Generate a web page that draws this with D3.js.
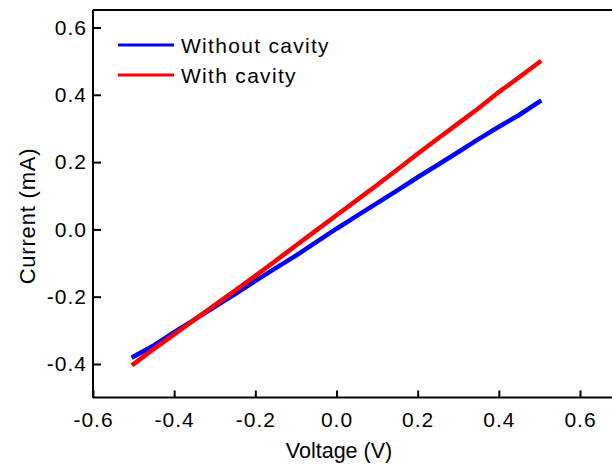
<!DOCTYPE html>
<html>
<head>
<meta charset="utf-8">
<script src="https://cdn.jsdelivr.net/npm/d3@7"></script>
<style>
body { margin: 0; background: #fff; }
text { font-family: "Liberation Sans", Arial, sans-serif; }
</style>
</head>
<body>
<script>

// voltage sweep (V)
var voltage = [-0.5, -0.45, -0.4, -0.35, -0.3, -0.25, -0.2, -0.15, -0.1, -0.05, 0,
               0.05, 0.1, 0.15, 0.2, 0.25, 0.3, 0.35, 0.4, 0.45, 0.5];
// current (mA)
var withoutCavity = [-0.378, -0.345, -0.305, -0.268, -0.230, -0.192, -0.153, -0.115, -0.078, -0.038, 0.002,
                     0.040, 0.078, 0.116, 0.155, 0.192, 0.230, 0.268, 0.305, 0.340, 0.380];
var withCavity = [-0.400, -0.355, -0.312, -0.268, -0.225, -0.182, -0.138, -0.093, -0.048, -0.003, 0.042,
                  0.087, 0.132, 0.178, 0.225, 0.270, 0.315, 0.360, 0.408, 0.452, 0.497];
var seriesNames = ["Without cavity", "With cavity"];
var seriesColors = ["#0000ff", "#ff0000"];
var xTicks = [-0.6, -0.4, -0.2, 0.0, 0.2, 0.4, 0.6];
var yTicks = [-0.4, -0.2, 0.0, 0.2, 0.4, 0.6];

var width = 612, height = 467;
var margin = {top: 10, right: 0, bottom: 69, left: 93};

var svg = d3.select("body").append("svg")
    .attr("width", width)
    .attr("height", height);

var x = d3.scaleLinear()
    .domain([-0.6, 0.6])
    .range([93, 580]);

var y = d3.scaleLinear()
    .domain([-0.4, 0.6])
    .range([364, 27.5]);

// plain hyphen instead of unicode minus
var fmt = v => d3.format(".1f")(v).replace("\u2212", "-");

// x axis (ticks pointing inward)
var gx = svg.append("g")
    .attr("transform", "translate(0," + (height - margin.bottom - 0.5) + ")")
    .call(d3.axisBottom(x).tickValues(xTicks).tickFormat(fmt).tickSize(-7).tickPadding(15).tickSizeOuter(0));
gx.select(".domain").attr("d", "M" + margin.left + ",0H" + width);

// y axis
var gy = svg.append("g")
    .attr("transform", "translate(" + margin.left + ",0)")
    .call(d3.axisLeft(y).tickValues(yTicks).tickFormat(fmt).tickSize(-8).tickPadding(6).tickSizeOuter(0));
gy.select(".domain").attr("d", "M0," + margin.top + "V" + (height - margin.bottom));

svg.selectAll(".tick text")
    .style("font-size", "21px")
    .style("letter-spacing", "1px")
    .attr("fill", "#000");
svg.selectAll(".domain, .tick line")
    .attr("stroke", "#000")
    .attr("stroke-width", 2);

// top frame line
svg.append("line")
    .attr("x1", margin.left).attr("x2", width)
    .attr("y1", margin.top).attr("y2", margin.top)
    .attr("stroke", "#000").attr("stroke-width", 2);

// data lines
var line = d3.line()
    .x(d => x(d[0]))
    .y(d => y(d[1]));

[withoutCavity, withCavity].forEach(function(vals, i) {
    svg.append("path")
        .datum(voltage.map((v, j) => [v, vals[j]]))
        .attr("d", line)
        .attr("fill", "none")
        .attr("stroke", seriesColors[i])
        .attr("stroke-width", 4.5)
        .attr("stroke-linecap", "square");
});

// legend
var legend = svg.selectAll(".legend")
    .data(seriesNames)
    .enter().append("g")
    .attr("class", "legend")
    .attr("transform", (d, i) => "translate(118," + (45 + i * 30) + ")");
legend.append("line")
    .attr("x1", 0).attr("x2", 56)
    .attr("stroke", (d, i) => seriesColors[i])
    .attr("stroke-width", 3);
legend.append("text")
    .attr("x", 63)
    .attr("y", 8)
    .style("font-size", "21px")
    .style("letter-spacing", "1.3px")
    .text(d => d);

// axis titles
svg.append("text")
    .attr("x", 339)
    .attr("y", 458)
    .attr("text-anchor", "middle")
    .style("font-size", "21.5px")
    .text("Voltage (V)");

svg.append("text")
    .attr("transform", "translate(35,216) rotate(-90)")
    .attr("text-anchor", "middle")
    .style("font-size", "22px")
    .style("letter-spacing", "0.8px")
    .text("Current (mA)");

</script>
</body>
</html>
